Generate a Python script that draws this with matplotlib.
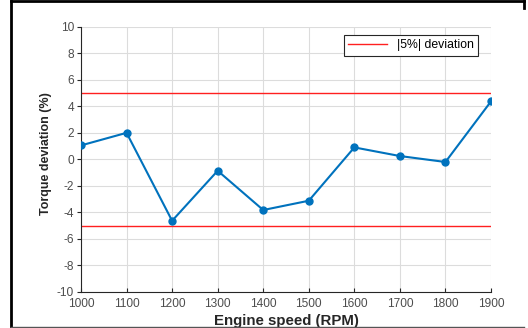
import matplotlib.pyplot as plt
from matplotlib.lines import Line2D

plt.rcParams['font.family'] = ['Liberation Sans', 'DejaVu Sans']
plt.rcParams['axes.unicode_minus'] = False

# Engine speed sweep and measured torque deviation
engine_speed = [1000, 1100, 1200, 1300, 1400, 1500, 1600, 1700, 1800, 1900]
torque_dev = [1.05, 2.0, -4.63, -0.86, -3.82, -3.12, 0.9, 0.25, -0.2, 4.37]
limit = 5
x_ticks = [1000, 1100, 1200, 1300, 1400, 1500, 1600, 1700, 1800, 1900]
y_ticks = [-10, -8, -6, -4, -2, 0, 2, 4, 6, 8, 10]

fig = plt.figure(figsize=(5.28, 3.28), dpi=100)
W, H = 528, 328
ax = fig.add_axes([81 / W, 1 - 292 / H, (491 - 81) / W, (292 - 26.7) / H])

ax.axhline(limit, color='#ff2020', lw=1.0, label='|5%| deviation', zorder=2)
ax.axhline(-limit, color='#ff2020', lw=1.0, zorder=2)
ax.plot(engine_speed, torque_dev, color='#0072BD', lw=1.5, marker='o',
        markersize=5, zorder=3)

ax.set_xlim(1000, 1900)
ax.set_ylim(-10, 10)
ax.set_xticks(x_ticks)
ax.set_yticks(y_ticks)
ax.grid(True, color='#dcdcdc', lw=0.8)
ax.set_axisbelow(True)

for s in ['top', 'right']:
    ax.spines[s].set_visible(False)
for s in ['left', 'bottom']:
    ax.spines[s].set_color('#262626')
    ax.spines[s].set_linewidth(0.8)

ax.tick_params(axis='x', direction='in', length=3, labelsize=8.6,
               labelcolor='#4d4d4d', color='#262626', pad=4)
ax.tick_params(axis='y', direction='out', length=3, labelsize=8.6,
               labelcolor='#4d4d4d', color='#262626', pad=2)

ax.set_xlabel('Engine speed (RPM)', fontsize=10.8, fontweight='bold',
              color='#262626', labelpad=3)
ax.set_ylabel('Torque deviation (%)', fontsize=9, fontweight='bold',
              color='#262626')
ax.yaxis.set_label_coords(-0.071, 0.522)

leg = ax.legend(loc='upper right', bbox_to_anchor=(484 / W, 1 - 29 / H),
                bbox_transform=fig.transFigure, fontsize=8.8, fancybox=False,
                framealpha=1, edgecolor='#262626', handlelength=3.2,
                borderpad=0.35)
leg.get_frame().set_linewidth(0.8)

# outer frame around the whole figure
fig.add_artist(Line2D([11 / W, 11 / W], [1 - 326 / H, 1 - 1 / H], color='black',
                      lw=2, transform=fig.transFigure))
fig.add_artist(Line2D([11 / W, 524 / W], [1 - 1 / H, 1 - 1 / H], color='black',
                      lw=2, transform=fig.transFigure))
fig.add_artist(Line2D([524 / W, 524 / W], [1 - 1 / H, 1 - 8 / H], color='black',
                      lw=2, transform=fig.transFigure))
fig.add_artist(Line2D([11 / W, 524 / W], [1 - 326.5 / H, 1 - 326.5 / H],
                      color='#555555', lw=1, transform=fig.transFigure))

fig.savefig('out.png', dpi=100)
